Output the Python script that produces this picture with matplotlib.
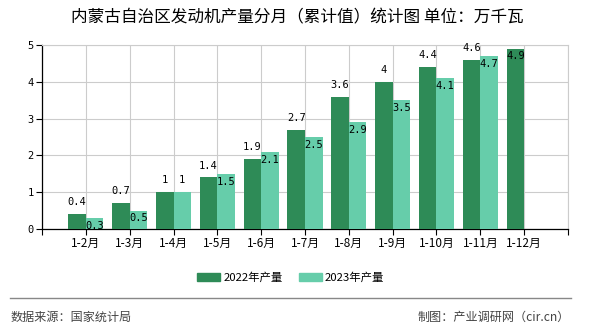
import numpy as np
import matplotlib
matplotlib.use("Agg")
import matplotlib.pyplot as plt
from matplotlib.patches import Patch

plt.rcParams['font.family'] = ['Noto Sans CJK SC', 'DejaVu Sans']

months = ['1-2月', '1-3月', '1-4月', '1-5月', '1-6月', '1-7月', '1-8月', '1-9月', '1-10月', '1-11月', '1-12月']
prod_2022 = [0.4, 0.7, 1, 1.4, 1.9, 2.7, 3.6, 4, 4.4, 4.6, 4.9]
prod_2023 = [0.3, 0.5, 1, 1.5, 2.1, 2.5, 2.9, 3.5, 4.1, 4.7]
label_2022 = ['0.4', '0.7', '1', '1.4', '1.9', '2.7', '3.6', '4', '4.4', '4.6', '4.9']
label_2023 = ['0.3', '0.5', '1', '1.5', '2.1', '2.5', '2.9', '3.5', '4.1', '4.7']

c22 = '#2e8b57'
c23 = '#66cdaa'

fig = plt.figure(figsize=(5.9, 3.3), dpi=100)
ax = fig.add_axes([0.0712, 0.306, 0.8915, 0.5576])

x = np.arange(1, len(months) + 1)
w = 0.4
ax.bar(x[:len(prod_2022)] - w / 2, prod_2022, w, color=c22, zorder=3)
ax.bar(x[:len(prod_2023)] + w / 2, prod_2023, w, color=c23, zorder=3)

mono = ['DejaVu Sans Mono', 'Noto Sans CJK SC']
for xi, v, s in zip(x, prod_2022, label_2022):
    # label would go past the top of the axis, so it sits inside the bar
    if v > 4.8:
        ax.annotate(s, (xi - w / 2, v), xytext=(0, -2), textcoords='offset points',
                    ha='center', va='top', fontsize=7.5, family=mono, zorder=4)
    else:
        ax.annotate(s, (xi - w / 2, v), xytext=(0, 5), textcoords='offset points',
                    ha='center', va='bottom', fontsize=7.5, family=mono, zorder=4)
for xi, v, v0, s in zip(x, prod_2023, prod_2022, label_2023):
    if v == v0:
        # same height as the 2022 bar: label goes above like the 2022 one
        ax.annotate(s, (xi + w / 2, v), xytext=(0, 5), textcoords='offset points',
                    ha='center', va='bottom', fontsize=7.5, family=mono, zorder=4)
    else:
        ax.annotate(s, (xi + w / 2, v), xytext=(0, -2), textcoords='offset points',
                    ha='center', va='top', fontsize=7.5, family=mono, zorder=4)

ax.set_xlim(0, 12)
ax.set_ylim(0, 5)
ax.set_xticks(np.arange(0, 13))
ax.set_xticklabels([''] + months + [''], fontsize=8.5)
ax.set_yticks(np.arange(0, 6))
ax.set_yticklabels([str(i) for i in range(6)], fontsize=7.5, family=mono)
ax.grid(True, color='#cccccc', linewidth=0.8, zorder=0)
ax.tick_params(length=4, width=0.8, color='black')
ax.tick_params(axis='x', pad=2)
ax.tick_params(axis='y', pad=2)
for side in ['top', 'right']:
    ax.spines[side].set_color('#cccccc')
    ax.spines[side].set_linewidth(0.8)
for side in ['left', 'bottom']:
    ax.spines[side].set_color('black')
    ax.spines[side].set_linewidth(0.9)

fig.text(0.504, 0.945, '内蒙古自治区发动机产量分月（累计值）统计图 单位：万千瓦',
         ha='center', va='center', fontsize=12)

handles = [Patch(color=c22, label='2022年产量'), Patch(color=c23, label='2023年产量')]
fig.legend(handles=handles, loc='center', bbox_to_anchor=(0.493, 0.16), ncol=2,
           frameon=False, fontsize=8.2, handlelength=2.0, handleheight=0.7,
           columnspacing=1.4, handletextpad=0.3)

fig.add_artist(plt.Line2D([0.017, 0.968], [0.097, 0.097], color='#888888', linewidth=1))
fig.text(0.018, 0.039, '数据来源：国家统计局', ha='left', va='center', fontsize=8.7, color='#444444')
fig.text(0.966, 0.039, '制图：产业调研网（cir.cn）', ha='right', va='center', fontsize=8.7, color='#444444')

fig.savefig('out.png', dpi=100)
